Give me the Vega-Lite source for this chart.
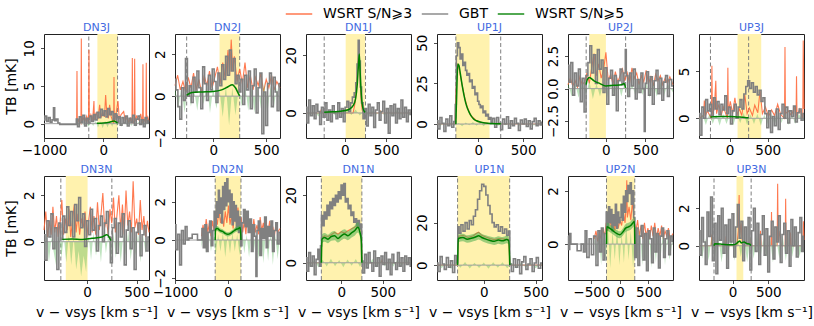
{
"$schema":"https://vega.github.io/schema/vega-lite/v6.json",
"background":"white",
"padding":{"left":4,"top":0,"right":5,"bottom":5},
"config":{
"font":"DejaVu Sans",
"view":{"stroke":"#222","strokeWidth":1},
"axis":{"grid":false,"domain":false,"tickColor":"#222","tickSize":3.5,"tickWidth":0.8,"labelFontSize":13.5,"labelColor":"#000","labelPadding":2,"labelFlush":false,"labelOverlap":false,"titleFontSize":14,"titleFontWeight":"normal","titleColor":"#000"},
"axisX":{"titlePadding":6},
"axisY":{"labelAngle":-90,"labelPadding":4,"titlePadding":4},
"title":{"fontSize":11,"fontWeight":"normal","color":"#4169e1","offset":1},
"legend":{"orient":"none","legendX":241,"legendY":-34,"direction":"horizontal","symbolType":"stroke","symbolSize":700,"symbolStrokeWidth":1.5,"labelFontSize":14,"labelOffset":10,"columnPadding":5}
},
"datasets":{
"g1":[{"x":-1000,"y":0.5},{"x":-970,"y":1.0},{"x":-940,"y":0.3},{"x":-910,"y":0.8},{"x":-880,"y":0.2},{"x":-850,"y":0.5},{"x":-830,"y":2.1},{"x":-810,"y":0.4},{"x":-780,"y":0.6},{"x":-750,"y":0.1},{"x":-720,"y":-0.1},{"x":-460,"y":-0.1},{"x":-450,"y":0.6},{"x":-420,"y":-0.4},{"x":-390,"y":0.9},{"x":-360,"y":0.2},{"x":-330,"y":1.1},{"x":-300,"y":-0.3},{"x":-270,"y":0.7},{"x":-240,"y":0.1},{"x":-210,"y":1.0},{"x":-180,"y":0.3},{"x":-150,"y":1.2},{"x":-120,"y":0.5},{"x":-90,"y":1.5},{"x":-60,"y":0.8},{"x":-30,"y":1.9},{"x":0,"y":1.1},{"x":30,"y":1.7},{"x":60,"y":0.9},{"x":90,"y":2.0},{"x":120,"y":1.2},{"x":150,"y":1.6},{"x":180,"y":0.6},{"x":210,"y":1.3},{"x":240,"y":0.2},{"x":270,"y":0.9},{"x":300,"y":-0.2},{"x":330,"y":0.8},{"x":360,"y":0.1},{"x":390,"y":1.0},{"x":420,"y":-0.3},{"x":450,"y":0.7},{"x":480,"y":0.2},{"x":510,"y":1.1},{"x":540,"y":-0.2},{"x":570,"y":0.6},{"x":600,"y":1.0},{"x":630,"y":-0.1},{"x":660,"y":0.5},{"x":690,"y":-0.4},{"x":720,"y":0.8},{"x":750,"y":0.1},{"x":770,"y":0.4}],
"o1":[{"x":-450,"y":0},{"x":-444,"y":7.0},{"x":-438,"y":0},{"x":-420,"y":0.5},{"x":-400,"y":0.2},{"x":-377,"y":0},{"x":-371,"y":11.3},{"x":-365,"y":0},{"x":-340,"y":0.8},{"x":-310,"y":0.3},{"x":-280,"y":1.0},{"x":-250,"y":0},{"x":-242,"y":9.8},{"x":-236,"y":0.5},{"x":-210,"y":1.2},{"x":-180,"y":0.4},{"x":-158,"y":3.0},{"x":-150,"y":0.5},{"x":-120,"y":1.5},{"x":-90,"y":0.6},{"x":-62,"y":2.5},{"x":-40,"y":0.8},{"x":-10,"y":1.6},{"x":20,"y":0.9},{"x":39,"y":3.8},{"x":60,"y":1.2},{"x":85,"y":0.7},{"x":106,"y":2.5},{"x":130,"y":1.0},{"x":150,"y":0.5},{"x":174,"y":0},{"x":180,"y":6.2},{"x":186,"y":0.3},{"x":210,"y":1.1},{"x":247,"y":3.0},{"x":270,"y":0.6},{"x":300,"y":1.2},{"x":343,"y":1.6},{"x":370,"y":0.4},{"x":400,"y":0.9},{"x":430,"y":0.2},{"x":460,"y":0.7},{"x":483,"y":0},{"x":489,"y":8.7},{"x":496,"y":0.4},{"x":521,"y":0},{"x":528,"y":8.6},{"x":535,"y":0.3},{"x":560,"y":1.0},{"x":600,"y":0.5},{"x":630,"y":1.3},{"x":662,"y":0},{"x":668,"y":7.9},{"x":674,"y":0.2},{"x":700,"y":0.6},{"x":718,"y":0},{"x":724,"y":8.1},{"x":730,"y":0.4},{"x":750,"y":0.9},{"x":770,"y":0.3}],
"n1":[{"x":-450,"y":0.2},{"x":-410,"y":-0.3},{"x":-370,"y":0.4},{"x":-330,"y":-0.2},{"x":-290,"y":0.3},{"x":-250,"y":-0.4},{"x":-210,"y":0.2},{"x":-170,"y":-0.3},{"x":-130,"y":0.4},{"x":-90,"y":-0.5},{"x":-50,"y":0.3},{"x":-10,"y":-0.6},{"x":30,"y":0.4},{"x":70,"y":-0.5},{"x":110,"y":0.3},{"x":150,"y":-0.4},{"x":190,"y":0.5},{"x":230,"y":-0.3},{"x":270,"y":0.2},{"x":310,"y":-0.4},{"x":350,"y":0.3},{"x":390,"y":-0.2},{"x":430,"y":0.4},{"x":470,"y":-0.3},{"x":510,"y":0.2},{"x":550,"y":-0.4},{"x":590,"y":0.3},{"x":630,"y":-0.2},{"x":670,"y":0.4},{"x":710,"y":-0.3},{"x":750,"y":0.2},{"x":770,"y":0}],
"m1":[{"x":-110,"y":0.05},{"x":0,"y":0.1},{"x":100,"y":0.2},{"x":180,"y":0.35},{"x":240,"y":0.05}],
"g2":[{"x":-360,"y":0.8},{"x":-342,"y":0.3},{"x":-324,"y":-0.5},{"x":-306,"y":-1.1},{"x":-288,"y":0.4},{"x":-270,"y":-0.2},{"x":-252,"y":1.8},{"x":-234,"y":0.0},{"x":-216,"y":0.5},{"x":-198,"y":-0.3},{"x":-180,"y":0.9},{"x":-162,"y":0.2},{"x":-144,"y":1.2},{"x":-126,"y":0.4},{"x":-108,"y":-0.6},{"x":-90,"y":1.4},{"x":-72,"y":0.6},{"x":-54,"y":-0.2},{"x":-36,"y":1.0},{"x":-18,"y":0.3},{"x":0,"y":1.3},{"x":18,"y":0.7},{"x":36,"y":-0.3},{"x":54,"y":1.1},{"x":72,"y":0.5},{"x":90,"y":1.5},{"x":108,"y":0.8},{"x":126,"y":1.9},{"x":144,"y":1.0},{"x":162,"y":2.2},{"x":180,"y":1.2},{"x":198,"y":1.8},{"x":216,"y":0.6},{"x":234,"y":1.0},{"x":252,"y":0.2},{"x":270,"y":0.8},{"x":288,"y":-0.4},{"x":306,"y":1.0},{"x":324,"y":0.3},{"x":342,"y":1.2},{"x":360,"y":-0.6},{"x":378,"y":0.5},{"x":396,"y":1.3},{"x":414,"y":-0.8},{"x":432,"y":0.4},{"x":450,"y":1.1},{"x":468,"y":-1.8},{"x":486,"y":0.2},{"x":504,"y":-1.4},{"x":522,"y":0.6},{"x":540,"y":1.1},{"x":558,"y":-0.5},{"x":576,"y":0.9},{"x":594,"y":0.2},{"x":612,"y":-0.7},{"x":630,"y":0.6}],
"o2":[{"x":-360,"y":0.5},{"x":-335,"y":1.0},{"x":-310,"y":0.3},{"x":-285,"y":0.7},{"x":-260,"y":0.2},{"x":-235,"y":0.9},{"x":-210,"y":0.4},{"x":-185,"y":1.1},{"x":-160,"y":0.3},{"x":-135,"y":0.8},{"x":-110,"y":0.2},{"x":-85,"y":1.0},{"x":-60,"y":0.5},{"x":-35,"y":1.2},{"x":-10,"y":0.4},{"x":15,"y":0.9},{"x":40,"y":1.4},{"x":65,"y":0.6},{"x":90,"y":1.6},{"x":115,"y":0.8},{"x":140,"y":2.2},{"x":155,"y":1.0},{"x":170,"y":2.7},{"x":185,"y":1.2},{"x":200,"y":1.9},{"x":225,"y":0.7},{"x":250,"y":1.3},{"x":275,"y":0.6},{"x":300,"y":1.6},{"x":325,"y":0.4},{"x":350,"y":1.0},{"x":375,"y":0.3},{"x":400,"y":0.9},{"x":425,"y":0.5},{"x":450,"y":1.1},{"x":475,"y":0.2},{"x":500,"y":0.8},{"x":525,"y":0.4},{"x":550,"y":1.0},{"x":575,"y":0.3},{"x":600,"y":0.7},{"x":630,"y":0.4}],
"n2":[{"x":-360,"y":0.5},{"x":-330,"y":-0.6},{"x":-300,"y":0.4},{"x":-270,"y":-0.8},{"x":-240,"y":0.6},{"x":-210,"y":-0.5},{"x":-180,"y":0.3},{"x":-150,"y":-0.7},{"x":-120,"y":0.5},{"x":-90,"y":-0.4},{"x":-60,"y":0.6},{"x":-30,"y":-0.8},{"x":0,"y":0.4},{"x":30,"y":-0.6},{"x":60,"y":0.3},{"x":90,"y":-1.0},{"x":120,"y":0.5},{"x":150,"y":-1.4},{"x":180,"y":0.4},{"x":210,"y":-0.9},{"x":240,"y":0.3},{"x":270,"y":-0.5},{"x":300,"y":0.6},{"x":330,"y":-0.7},{"x":360,"y":0.4},{"x":390,"y":-0.8},{"x":420,"y":0.5},{"x":450,"y":-0.6},{"x":480,"y":0.7},{"x":510,"y":-0.9},{"x":540,"y":0.5},{"x":570,"y":-0.6},{"x":600,"y":0.4},{"x":630,"y":-0.3}],
"m2":[{"x":-250,"y":0.05},{"x":-200,"y":0.18},{"x":-100,"y":0.2},{"x":0,"y":0.22},{"x":80,"y":0.3},{"x":140,"y":0.45},{"x":180,"y":0.55},{"x":210,"y":0.4},{"x":240,"y":0.1},{"x":250,"y":0.02}],
"g3":[{"x":-470,"y":2.0},{"x":-448,"y":-3.5},{"x":-426,"y":4.5},{"x":-404,"y":-1.0},{"x":-382,"y":2.5},{"x":-360,"y":-2.0},{"x":-338,"y":3.0},{"x":-316,"y":0.5},{"x":-294,"y":-4.0},{"x":-272,"y":2.0},{"x":-250,"y":-1.5},{"x":-228,"y":3.5},{"x":-206,"y":-2.5},{"x":-184,"y":1.0},{"x":-162,"y":-3.0},{"x":-140,"y":2.5},{"x":-118,"y":0.0},{"x":-96,"y":-2.0},{"x":-74,"y":3.5},{"x":-52,"y":-1.5},{"x":-30,"y":1.5},{"x":-8,"y":-3.0},{"x":14,"y":2.0},{"x":36,"y":4.0},{"x":58,"y":0.5},{"x":80,"y":3.5},{"x":102,"y":5.5},{"x":124,"y":7.0},{"x":140,"y":10.5},{"x":155,"y":17.0},{"x":168,"y":25.2},{"x":180,"y":18.0},{"x":195,"y":9.0},{"x":210,"y":3.5},{"x":230,"y":-2.0},{"x":250,"y":1.5},{"x":272,"y":-4.5},{"x":294,"y":3.0},{"x":316,"y":-1.0},{"x":338,"y":2.0},{"x":360,"y":-5.0},{"x":382,"y":1.0},{"x":404,"y":3.5},{"x":426,"y":-2.5},{"x":448,"y":0.5},{"x":470,"y":4.0},{"x":492,"y":-3.5},{"x":514,"y":1.5},{"x":536,"y":-7.0},{"x":558,"y":2.5},{"x":580,"y":-1.0},{"x":602,"y":3.0},{"x":624,"y":-3.5},{"x":646,"y":1.5},{"x":668,"y":-2.0},{"x":690,"y":4.5},{"x":712,"y":-1.5},{"x":734,"y":2.0},{"x":756,"y":-3.0},{"x":778,"y":1.0},{"x":800,"y":-0.5}],
"o3":[{"x":-470,"y":0},{"x":-300,"y":0},{"x":-290,"y":0.8},{"x":-280,"y":0},{"x":100,"y":0},{"x":120,"y":3},{"x":140,"y":8},{"x":160,"y":18},{"x":170,"y":21},{"x":180,"y":15},{"x":195,"y":5},{"x":210,"y":1},{"x":230,"y":0},{"x":420,"y":0},{"x":430,"y":0.6},{"x":440,"y":0},{"x":800,"y":0}],
"n3":[{"x":-470,"y":0.8},{"x":-420,"y":-1.0},{"x":-370,"y":0.7},{"x":-320,"y":-1.2},{"x":-270,"y":0.9},{"x":-220,"y":-0.8},{"x":-170,"y":1.0},{"x":-120,"y":-0.9},{"x":-70,"y":0.6},{"x":-20,"y":-1.1},{"x":30,"y":0.8},{"x":80,"y":-0.7},{"x":130,"y":1.2},{"x":180,"y":-0.9},{"x":230,"y":0.7},{"x":280,"y":-1.0},{"x":330,"y":0.8},{"x":380,"y":-0.6},{"x":430,"y":0.9},{"x":480,"y":-1.1},{"x":530,"y":0.7},{"x":580,"y":-0.8},{"x":630,"y":1.0},{"x":680,"y":-0.7},{"x":730,"y":0.6},{"x":780,"y":-0.9},{"x":800,"y":0}],
"m3":[{"x":-250,"y":0.2},{"x":-150,"y":0.4},{"x":-50,"y":0.6},{"x":50,"y":1.2},{"x":100,"y":2.5},{"x":130,"y":5},{"x":150,"y":10},{"x":165,"y":17},{"x":175,"y":20.5},{"x":185,"y":14},{"x":200,"y":6},{"x":220,"y":1.5},{"x":245,"y":0.2}],
"g4":[{"x":-460,"y":2.0},{"x":-438,"y":-3.0},{"x":-416,"y":4.0},{"x":-394,"y":0.5},{"x":-372,"y":-4.5},{"x":-350,"y":3.0},{"x":-328,"y":-1.0},{"x":-306,"y":5.0},{"x":-284,"y":-2.0},{"x":-262,"y":1.5},{"x":-250,"y":12},{"x":-240,"y":42},{"x":-225,"y":50},{"x":-210,"y":47},{"x":-195,"y":40},{"x":-180,"y":43},{"x":-165,"y":36},{"x":-150,"y":38},{"x":-135,"y":33},{"x":-120,"y":30},{"x":-105,"y":31},{"x":-90,"y":26},{"x":-75,"y":27},{"x":-60,"y":22},{"x":-45,"y":23},{"x":-30,"y":18},{"x":-15,"y":19},{"x":0,"y":14},{"x":15,"y":12},{"x":30,"y":10},{"x":45,"y":11},{"x":60,"y":7},{"x":75,"y":8},{"x":90,"y":5},{"x":105,"y":6},{"x":120,"y":3},{"x":135,"y":4},{"x":150,"y":1.0},{"x":172,"y":3.5},{"x":194,"y":-2.0},{"x":216,"y":4.0},{"x":238,"y":0.5},{"x":260,"y":-3.5},{"x":282,"y":3.0},{"x":304,"y":0.0},{"x":326,"y":4.5},{"x":348,"y":-2.5},{"x":370,"y":2.0},{"x":392,"y":-1.0},{"x":414,"y":3.5},{"x":436,"y":0.5},{"x":458,"y":-4.0},{"x":480,"y":2.5},{"x":502,"y":0.0},{"x":524,"y":3.0},{"x":546,"y":-1.5},{"x":568,"y":2.0},{"x":590,"y":-3.0},{"x":612,"y":1.5},{"x":634,"y":3.5},{"x":656,"y":-1.0},{"x":678,"y":2.0},{"x":700,"y":-0.5},{"x":710,"y":1.0}],
"o4":[{"x":-460,"y":0},{"x":-260,"y":0},{"x":-250,"y":20},{"x":-230,"y":37},{"x":-210,"y":33},{"x":-180,"y":24},{"x":-150,"y":16},{"x":-120,"y":10},{"x":-90,"y":6},{"x":-60,"y":4},{"x":-30,"y":2.5},{"x":0,"y":1.5},{"x":50,"y":0.8},{"x":100,"y":0.5},{"x":150,"y":0.3},{"x":200,"y":0.5},{"x":230,"y":0},{"x":710,"y":0}],
"n4":[{"x":-460,"y":0.8},{"x":-420,"y":-1.2},{"x":-380,"y":1.0},{"x":-340,"y":-0.9},{"x":-300,"y":1.3},{"x":-260,"y":-1.0},{"x":-220,"y":0.7},{"x":-180,"y":-1.4},{"x":-140,"y":1.0},{"x":-100,"y":-0.8},{"x":-60,"y":1.2},{"x":-20,"y":-1.1},{"x":20,"y":0.9},{"x":60,"y":-1.3},{"x":100,"y":1.1},{"x":140,"y":-0.7},{"x":180,"y":0.9},{"x":220,"y":-1.2},{"x":260,"y":1.0},{"x":300,"y":-0.9},{"x":340,"y":1.3},{"x":380,"y":-1.0},{"x":420,"y":0.8},{"x":460,"y":-1.2},{"x":500,"y":1.0},{"x":540,"y":-0.8},{"x":580,"y":1.1},{"x":620,"y":-1.0},{"x":660,"y":0.9},{"x":710,"y":-0.5}],
"m4":[{"x":-250,"y":0},{"x":-240,"y":20},{"x":-228,"y":37},{"x":-215,"y":36},{"x":-200,"y":31},{"x":-180,"y":24},{"x":-160,"y":18},{"x":-140,"y":13},{"x":-120,"y":9.5},{"x":-100,"y":7},{"x":-80,"y":5},{"x":-50,"y":3},{"x":-20,"y":2},{"x":20,"y":1.2},{"x":80,"y":0.6},{"x":150,"y":0.3},{"x":250,"y":0.1}],
"g5":[{"x":-480,"y":1.8},{"x":-456,"y":0.5},{"x":-432,"y":2.0},{"x":-408,"y":-0.5},{"x":-384,"y":1.2},{"x":-360,"y":0.2},{"x":-336,"y":1.5},{"x":-312,"y":-1.0},{"x":-288,"y":0.8},{"x":-264,"y":-1.8},{"x":-240,"y":1.0},{"x":-216,"y":2.0},{"x":-192,"y":3.3},{"x":-168,"y":1.2},{"x":-144,"y":2.6},{"x":-120,"y":0.4},{"x":-96,"y":3.0},{"x":-72,"y":1.5},{"x":-48,"y":2.2},{"x":-24,"y":-0.3},{"x":0,"y":1.6},{"x":24,"y":-1.2},{"x":48,"y":0.8},{"x":72,"y":1.4},{"x":96,"y":-0.5},{"x":120,"y":1.0},{"x":144,"y":-1.7},{"x":168,"y":0.6},{"x":192,"y":1.5},{"x":216,"y":0.3},{"x":240,"y":1.2},{"x":252,"y":3.0},{"x":264,"y":1.0},{"x":288,"y":-0.6},{"x":312,"y":1.2},{"x":336,"y":0.2},{"x":360,"y":1.5},{"x":384,"y":-0.8},{"x":408,"y":0.7},{"x":432,"y":-0.3},{"x":456,"y":1.2},{"x":480,"y":0.0},{"x":492,"y":-3.3},{"x":504,"y":0.4},{"x":528,"y":1.3},{"x":552,"y":-0.5},{"x":576,"y":0.9},{"x":600,"y":-1.2},{"x":624,"y":0.6},{"x":648,"y":1.4},{"x":672,"y":-0.4},{"x":696,"y":0.8},{"x":720,"y":-0.9},{"x":744,"y":0.5},{"x":768,"y":1.0},{"x":792,"y":-0.6},{"x":816,"y":0.7},{"x":850,"y":0.2}],
"o5":[{"x":-480,"y":0.3},{"x":-450,"y":0.8},{"x":-420,"y":0.2},{"x":-390,"y":0.6},{"x":-360,"y":0.1},{"x":-330,"y":0.9},{"x":-300,"y":0.3},{"x":-270,"y":0.5},{"x":-240,"y":1.2},{"x":-210,"y":0.4},{"x":-180,"y":1.6},{"x":-150,"y":2.7},{"x":-120,"y":1.0},{"x":-90,"y":1.9},{"x":-60,"y":0.8},{"x":-30,"y":1.4},{"x":0,"y":2.8},{"x":30,"y":0.6},{"x":60,"y":1.1},{"x":90,"y":0.3},{"x":120,"y":1.3},{"x":150,"y":0.5},{"x":180,"y":1.0},{"x":210,"y":1.5},{"x":240,"y":0.6},{"x":270,"y":1.2},{"x":300,"y":0.4},{"x":330,"y":1.6},{"x":360,"y":0.8},{"x":390,"y":1.2},{"x":420,"y":0.3},{"x":450,"y":1.0},{"x":480,"y":0.5},{"x":510,"y":1.4},{"x":540,"y":0.4},{"x":570,"y":0.9},{"x":600,"y":0.2},{"x":630,"y":1.1},{"x":660,"y":0.6},{"x":690,"y":1.0},{"x":720,"y":0.3},{"x":750,"y":0.8},{"x":780,"y":0.4},{"x":810,"y":0.9},{"x":850,"y":0.3}],
"n5":[{"x":-480,"y":0.5},{"x":-435,"y":-0.6},{"x":-390,"y":0.4},{"x":-345,"y":-0.7},{"x":-300,"y":0.5},{"x":-255,"y":-0.5},{"x":-210,"y":0.6},{"x":-165,"y":-0.8},{"x":-120,"y":0.4},{"x":-75,"y":-0.6},{"x":-30,"y":0.5},{"x":15,"y":-0.7},{"x":60,"y":0.4},{"x":105,"y":-0.5},{"x":150,"y":0.6},{"x":195,"y":-0.6},{"x":240,"y":0.5},{"x":285,"y":-0.7},{"x":330,"y":0.4},{"x":375,"y":-0.6},{"x":420,"y":0.5},{"x":465,"y":-0.5},{"x":510,"y":0.6},{"x":555,"y":-0.7},{"x":600,"y":0.4},{"x":645,"y":-0.6},{"x":690,"y":0.5},{"x":735,"y":-0.6},{"x":780,"y":0.4},{"x":850,"y":-0.3}],
"m5":[{"x":-250,"y":0.3},{"x":-235,"y":0.7},{"x":-210,"y":0.85},{"x":-150,"y":0.6},{"x":-80,"y":0.4},{"x":0,"y":0.2},{"x":100,"y":0.25},{"x":200,"y":0.3},{"x":230,"y":0.4},{"x":250,"y":0.05}],
"g6":[{"x":-400,"y":0.5},{"x":-375,"y":-1.8},{"x":-350,"y":1.2},{"x":-325,"y":0.0},{"x":-300,"y":2.0},{"x":-275,"y":0.8},{"x":-250,"y":1.5},{"x":-225,"y":0.3},{"x":-200,"y":2.2},{"x":-175,"y":1.0},{"x":-150,"y":1.8},{"x":-125,"y":0.4},{"x":-100,"y":1.5},{"x":-75,"y":0.9},{"x":-50,"y":2.4},{"x":-25,"y":0.5},{"x":0,"y":1.2},{"x":25,"y":-0.6},{"x":50,"y":0.8},{"x":75,"y":1.5},{"x":100,"y":0.0},{"x":125,"y":1.2},{"x":150,"y":2.0},{"x":175,"y":1.0},{"x":200,"y":2.6},{"x":225,"y":3.4},{"x":250,"y":4.0},{"x":275,"y":3.2},{"x":300,"y":3.8},{"x":325,"y":2.8},{"x":350,"y":3.4},{"x":375,"y":2.5},{"x":400,"y":3.0},{"x":425,"y":1.8},{"x":450,"y":2.2},{"x":475,"y":0.5},{"x":500,"y":-1.0},{"x":525,"y":0.8},{"x":550,"y":-1.5},{"x":575,"y":0.2},{"x":600,"y":-0.8},{"x":625,"y":1.0},{"x":650,"y":-1.2},{"x":675,"y":0.5},{"x":700,"y":1.5},{"x":725,"y":0.0},{"x":750,"y":1.2},{"x":775,"y":-0.5},{"x":800,"y":0.8},{"x":825,"y":0.2},{"x":850,"y":1.3},{"x":875,"y":-0.4},{"x":900,"y":0.6},{"x":925,"y":1.0},{"x":950,"y":-0.2},{"x":975,"y":0.5}],
"o6":[{"x":-400,"y":0},{"x":-340,"y":0.3},{"x":-330,"y":1.9},{"x":-320,"y":0.2},{"x":-290,"y":0.8},{"x":-260,"y":0.3},{"x":-237,"y":0},{"x":-231,"y":5.6},{"x":-225,"y":0.4},{"x":-200,"y":1.0},{"x":-180,"y":4.0},{"x":-170,"y":0.5},{"x":-140,"y":1.5},{"x":-110,"y":0.3},{"x":-80,"y":1.2},{"x":-50,"y":0.5},{"x":-28,"y":0},{"x":-22,"y":5.4},{"x":-16,"y":0.6},{"x":10,"y":1.8},{"x":40,"y":0.5},{"x":70,"y":2.2},{"x":100,"y":0.4},{"x":130,"y":1.0},{"x":160,"y":0.3},{"x":200,"y":2.5},{"x":230,"y":0.5},{"x":260,"y":1.1},{"x":300,"y":0.3},{"x":330,"y":1.4},{"x":370,"y":0.6},{"x":400,"y":3.0},{"x":430,"y":0.5},{"x":470,"y":1.2},{"x":510,"y":0.2},{"x":550,"y":0.9},{"x":590,"y":0.3},{"x":630,"y":1.5},{"x":670,"y":0.4},{"x":720,"y":0},{"x":726,"y":7.6},{"x":732,"y":0.5},{"x":770,"y":0.8},{"x":810,"y":0.3},{"x":850,"y":1.2},{"x":871,"y":0},{"x":877,"y":4.5},{"x":883,"y":0.3},{"x":920,"y":1.0},{"x":959,"y":0},{"x":965,"y":8.3},{"x":975,"y":1.0}],
"n6":[{"x":-400,"y":-0.5},{"x":-355,"y":0.4},{"x":-310,"y":-0.7},{"x":-265,"y":0.5},{"x":-220,"y":-0.6},{"x":-175,"y":0.4},{"x":-130,"y":-0.8},{"x":-85,"y":0.5},{"x":-40,"y":-0.6},{"x":5,"y":0.4},{"x":50,"y":-0.7},{"x":95,"y":0.5},{"x":140,"y":-0.5},{"x":185,"y":0.6},{"x":230,"y":-0.7},{"x":275,"y":0.4},{"x":320,"y":-0.6},{"x":365,"y":0.5},{"x":410,"y":-0.8},{"x":455,"y":0.4},{"x":500,"y":-0.6},{"x":545,"y":0.5},{"x":590,"y":-0.7},{"x":635,"y":0.4},{"x":680,"y":-0.5},{"x":725,"y":0.6},{"x":770,"y":-0.7},{"x":815,"y":0.4},{"x":860,"y":-0.6},{"x":905,"y":0.5},{"x":975,"y":-0.3}],
"m6":[{"x":-250,"y":0.15},{"x":-100,"y":0.2},{"x":0,"y":0.2},{"x":100,"y":0.15},{"x":200,"y":0.1},{"x":250,"y":0.05}],
"g7":[{"x":-435,"y":0.3},{"x":-415,"y":-0.8},{"x":-395,"y":0.9},{"x":-375,"y":0.2},{"x":-355,"y":1.2},{"x":-335,"y":-0.3},{"x":-315,"y":0.6},{"x":-295,"y":-1.2},{"x":-275,"y":0.8},{"x":-255,"y":0.1},{"x":-235,"y":1.1},{"x":-215,"y":0.4},{"x":-195,"y":1.5},{"x":-175,"y":0.7},{"x":-155,"y":1.3},{"x":-135,"y":0.2},{"x":-115,"y":1.6},{"x":-95,"y":0.9},{"x":-75,"y":1.9},{"x":-55,"y":0.6},{"x":-35,"y":1.2},{"x":-15,"y":-0.2},{"x":5,"y":0.9},{"x":25,"y":0.3},{"x":45,"y":1.4},{"x":65,"y":0.5},{"x":85,"y":1.0},{"x":105,"y":-0.4},{"x":125,"y":0.7},{"x":145,"y":1.1},{"x":165,"y":0.0},{"x":185,"y":0.8},{"x":205,"y":1.3},{"x":225,"y":0.2},{"x":245,"y":-0.9},{"x":265,"y":0.6},{"x":285,"y":1.0},{"x":305,"y":-0.5},{"x":325,"y":0.8},{"x":345,"y":0.2},{"x":365,"y":1.2},{"x":385,"y":-1.0},{"x":405,"y":0.5},{"x":425,"y":0.9},{"x":445,"y":-0.3},{"x":465,"y":0.6},{"x":485,"y":-1.2},{"x":505,"y":0.4},{"x":525,"y":0.8},{"x":545,"y":-0.6},{"x":565,"y":0.3},{"x":585,"y":0.7},{"x":605,"y":-0.4},{"x":625,"y":0.2}],
"o7":[{"x":-435,"y":0.5},{"x":-417,"y":1.3},{"x":-399,"y":0.2},{"x":-381,"y":0.9},{"x":-363,"y":0.3},{"x":-345,"y":1.5},{"x":-327,"y":0.4},{"x":-309,"y":1.1},{"x":-291,"y":0.2},{"x":-273,"y":0.8},{"x":-255,"y":1.8},{"x":-237,"y":0.3},{"x":-219,"y":1.0},{"x":-201,"y":0.5},{"x":-183,"y":1.4},{"x":-165,"y":0.2},{"x":-147,"y":0.9},{"x":-129,"y":1.6},{"x":-111,"y":0.4},{"x":-93,"y":1.2},{"x":-75,"y":0.3},{"x":-57,"y":1.0},{"x":-39,"y":0.6},{"x":-21,"y":1.3},{"x":-3,"y":0.2},{"x":15,"y":0.9},{"x":33,"y":1.5},{"x":51,"y":0.4},{"x":69,"y":1.1},{"x":87,"y":0.3},{"x":105,"y":1.7},{"x":123,"y":0.5},{"x":141,"y":1.2},{"x":159,"y":2.1},{"x":177,"y":0.6},{"x":195,"y":1.0},{"x":213,"y":0.3},{"x":231,"y":1.4},{"x":249,"y":0.8},{"x":267,"y":1.9},{"x":285,"y":0.4},{"x":303,"y":1.2},{"x":321,"y":2.0},{"x":339,"y":0.5},{"x":357,"y":1.6},{"x":375,"y":0.3},{"x":393,"y":2.2},{"x":411,"y":0.7},{"x":429,"y":1.3},{"x":447,"y":0.4},{"x":465,"y":2.6},{"x":483,"y":0.6},{"x":501,"y":1.0},{"x":519,"y":0.3},{"x":537,"y":1.8},{"x":555,"y":0.5},{"x":573,"y":1.1},{"x":591,"y":0.2},{"x":609,"y":0.9},{"x":625,"y":0.4}],
"n7":[{"x":-435,"y":-0.6},{"x":-410,"y":0.3},{"x":-385,"y":-0.9},{"x":-360,"y":0.2},{"x":-335,"y":-0.5},{"x":-310,"y":-1.1},{"x":-285,"y":0.4},{"x":-260,"y":-0.7},{"x":-235,"y":0.2},{"x":-210,"y":-0.9},{"x":-185,"y":0.3},{"x":-160,"y":-1.0},{"x":-135,"y":0.2},{"x":-110,"y":-1.2},{"x":-85,"y":-0.4},{"x":-60,"y":-1.5},{"x":-35,"y":-0.6},{"x":-10,"y":-1.3},{"x":15,"y":0.3},{"x":40,"y":-0.8},{"x":65,"y":0.4},{"x":90,"y":-0.6},{"x":115,"y":0.2},{"x":140,"y":-0.9},{"x":165,"y":0.5},{"x":190,"y":-0.5},{"x":215,"y":0.3},{"x":240,"y":-1.0},{"x":265,"y":0.4},{"x":290,"y":-0.7},{"x":315,"y":0.2},{"x":340,"y":-0.9},{"x":365,"y":0.3},{"x":390,"y":-0.6},{"x":415,"y":0.5},{"x":440,"y":-0.8},{"x":465,"y":0.2},{"x":490,"y":-0.6},{"x":515,"y":0.4},{"x":540,"y":-0.9},{"x":565,"y":0.3},{"x":590,"y":-0.5},{"x":625,"y":0.2}],
"m7":[{"x":-250,"y":0.1},{"x":-150,"y":0.12},{"x":-50,"y":0.1},{"x":50,"y":0.15},{"x":150,"y":0.2},{"x":200,"y":0.3},{"x":240,"y":0.05}],
"g8":[{"x":-1000,"y":0.8},{"x":-965,"y":-0.5},{"x":-930,"y":0.3},{"x":-895,"y":-1.3},{"x":-860,"y":0.5},{"x":-825,"y":-0.2},{"x":-790,"y":0.7},{"x":-755,"y":0.0},{"x":-720,"y":0.1},{"x":-700,"y":0.1},{"x":-650,"y":0.3},{"x":-500,"y":0.0},{"x":-480,"y":0.6},{"x":-450,"y":-0.4},{"x":-420,"y":0.8},{"x":-390,"y":-0.6},{"x":-360,"y":0.4},{"x":-330,"y":1.0},{"x":-300,"y":-0.3},{"x":-270,"y":0.5},{"x":-250,"y":1.5},{"x":-230,"y":0.6},{"x":-210,"y":2.0},{"x":-190,"y":1.2},{"x":-170,"y":2.6},{"x":-150,"y":1.4},{"x":-130,"y":2.2},{"x":-110,"y":0.9},{"x":-90,"y":2.8},{"x":-70,"y":1.6},{"x":-50,"y":3.0},{"x":-30,"y":1.8},{"x":-10,"y":3.2},{"x":10,"y":2.0},{"x":30,"y":2.6},{"x":50,"y":1.2},{"x":70,"y":2.4},{"x":90,"y":0.8},{"x":110,"y":2.0},{"x":130,"y":1.0},{"x":150,"y":1.8},{"x":170,"y":0.6},{"x":190,"y":1.5},{"x":210,"y":0.4},{"x":230,"y":1.2},{"x":250,"y":-0.3},{"x":280,"y":0.9},{"x":310,"y":1.6},{"x":340,"y":0.7},{"x":370,"y":1.5},{"x":400,"y":0.4},{"x":430,"y":1.1},{"x":460,"y":-0.6},{"x":490,"y":0.8},{"x":520,"y":0.2},{"x":540,"y":-1.9},{"x":560,"y":0.5},{"x":590,"y":1.0},{"x":620,"y":-0.8},{"x":650,"y":0.6},{"x":680,"y":0.1},{"x":710,"y":1.2},{"x":740,"y":-0.4},{"x":770,"y":0.7},{"x":800,"y":0.2},{"x":830,"y":1.0},{"x":860,"y":-0.6},{"x":890,"y":0.5},{"x":920,"y":0.9},{"x":950,"y":-0.2},{"x":985,"y":0.4}],
"o8":[{"x":-500,"y":0.2},{"x":-470,"y":0.8},{"x":-440,"y":0.3},{"x":-410,"y":1.1},{"x":-380,"y":0.4},{"x":-350,"y":0.9},{"x":-320,"y":0.2},{"x":-290,"y":1.0},{"x":-260,"y":0.5},{"x":-230,"y":1.3},{"x":-200,"y":0.8},{"x":-170,"y":1.6},{"x":-140,"y":0.9},{"x":-110,"y":1.4},{"x":-80,"y":0.7},{"x":-50,"y":1.5},{"x":-20,"y":0.9},{"x":10,"y":1.8},{"x":40,"y":0.8},{"x":70,"y":1.3},{"x":100,"y":0.6},{"x":130,"y":1.5},{"x":160,"y":0.9},{"x":190,"y":1.7},{"x":220,"y":0.7},{"x":250,"y":1.2},{"x":280,"y":0.4},{"x":310,"y":1.0},{"x":340,"y":0.3},{"x":370,"y":1.4},{"x":400,"y":0.5},{"x":430,"y":0.9},{"x":460,"y":0.2},{"x":490,"y":1.1},{"x":520,"y":0.4},{"x":550,"y":0.8},{"x":580,"y":0.3},{"x":610,"y":1.2},{"x":640,"y":0.5},{"x":670,"y":0.9},{"x":700,"y":0.2},{"x":730,"y":0.8},{"x":760,"y":0.4},{"x":790,"y":1.0},{"x":820,"y":0.3},{"x":850,"y":0.7},{"x":880,"y":0.2},{"x":910,"y":0.9},{"x":940,"y":0.4},{"x":985,"y":0.6}],
"n8":[{"x":-500,"y":-0.4},{"x":-455,"y":0.3},{"x":-410,"y":-0.7},{"x":-365,"y":0.4},{"x":-320,"y":-0.6},{"x":-275,"y":0.2},{"x":-230,"y":-0.8},{"x":-185,"y":0.3},{"x":-140,"y":-0.6},{"x":-95,"y":0.4},{"x":-50,"y":-0.9},{"x":-5,"y":0.3},{"x":40,"y":-0.7},{"x":85,"y":0.4},{"x":130,"y":-0.6},{"x":175,"y":0.3},{"x":220,"y":-0.8},{"x":265,"y":0.4},{"x":310,"y":-0.7},{"x":355,"y":0.3},{"x":400,"y":-0.9},{"x":445,"y":0.4},{"x":490,"y":-0.6},{"x":535,"y":0.3},{"x":580,"y":-1.0},{"x":625,"y":0.4},{"x":670,"y":-1.2},{"x":715,"y":0.3},{"x":760,"y":-1.1},{"x":805,"y":0.4},{"x":850,"y":-1.3},{"x":895,"y":0.3},{"x":940,"y":-1.0},{"x":985,"y":0.2}],
"m8":[{"x":-240,"y":0,"lo":0,"hi":0},{"x":-235,"y":0.55,"lo":0.42,"hi":0.68},{"x":-200,"y":0.6,"lo":0.47,"hi":0.73},{"x":-150,"y":0.5,"lo":0.38,"hi":0.62},{"x":-100,"y":0.45,"lo":0.33,"hi":0.57},{"x":-50,"y":0.35,"lo":0.24,"hi":0.46},{"x":0,"y":0.3,"lo":0.19,"hi":0.41},{"x":50,"y":0.35,"lo":0.24,"hi":0.46},{"x":100,"y":0.45,"lo":0.33,"hi":0.57},{"x":150,"y":0.55,"lo":0.42,"hi":0.68},{"x":200,"y":0.6,"lo":0.47,"hi":0.73},{"x":235,"y":0.65,"lo":0.52,"hi":0.78},{"x":247,"y":0,"lo":0,"hi":0}],
"g9":[{"x":-425,"y":1.5},{"x":-403,"y":-2.5},{"x":-381,"y":3.0},{"x":-359,"y":-1.0},{"x":-337,"y":2.0},{"x":-315,"y":-3.5},{"x":-293,"y":1.0},{"x":-271,"y":4.0},{"x":-255,"y":-1.0},{"x":-245,"y":5.0},{"x":-232,"y":14},{"x":-215,"y":11},{"x":-198,"y":15},{"x":-181,"y":13},{"x":-164,"y":17},{"x":-147,"y":14},{"x":-130,"y":18},{"x":-113,"y":16},{"x":-96,"y":19},{"x":-79,"y":17},{"x":-62,"y":20},{"x":-45,"y":18},{"x":-28,"y":21},{"x":-11,"y":19},{"x":6,"y":23},{"x":23,"y":20},{"x":40,"y":23.5},{"x":57,"y":18},{"x":74,"y":19},{"x":91,"y":16},{"x":108,"y":17},{"x":125,"y":14},{"x":142,"y":15},{"x":159,"y":12},{"x":176,"y":13},{"x":193,"y":11},{"x":210,"y":12.5},{"x":227,"y":10},{"x":240,"y":11.5},{"x":250,"y":0.5},{"x":270,"y":-3.0},{"x":292,"y":2.5},{"x":314,"y":-1.5},{"x":336,"y":3.0},{"x":358,"y":0.0},{"x":380,"y":-2.5},{"x":402,"y":3.5},{"x":424,"y":-1.0},{"x":446,"y":1.5},{"x":468,"y":-4.0},{"x":490,"y":2.0},{"x":512,"y":-0.5},{"x":534,"y":3.0},{"x":556,"y":-2.0},{"x":578,"y":1.0},{"x":600,"y":-3.5},{"x":622,"y":2.5},{"x":644,"y":0.0},{"x":666,"y":-2.0},{"x":688,"y":3.0},{"x":710,"y":-1.0},{"x":732,"y":1.5},{"x":754,"y":-2.5},{"x":776,"y":2.0},{"x":798,"y":-0.5},{"x":820,"y":1.5},{"x":840,"y":-1.0}],
"o9":[{"x":-425,"y":0},{"x":-245,"y":0},{"x":-235,"y":7.5},{"x":-200,"y":8.0},{"x":-160,"y":7.8},{"x":-120,"y":8.3},{"x":-80,"y":9.0},{"x":-40,"y":8.5},{"x":0,"y":9.2},{"x":40,"y":8.8},{"x":80,"y":9.5},{"x":120,"y":10.0},{"x":160,"y":10.5},{"x":190,"y":11.0},{"x":220,"y":10.2},{"x":240,"y":9.8},{"x":250,"y":0},{"x":480,"y":0},{"x":490,"y":0.7},{"x":500,"y":0},{"x":840,"y":0}],
"n9":[{"x":-425,"y":0.8},{"x":-375,"y":-1.2},{"x":-325,"y":1.0},{"x":-275,"y":-1.4},{"x":-225,"y":0.9},{"x":-175,"y":-1.1},{"x":-125,"y":1.2},{"x":-75,"y":-1.0},{"x":-25,"y":0.8},{"x":25,"y":-1.3},{"x":75,"y":1.0},{"x":125,"y":-0.9},{"x":175,"y":1.1},{"x":225,"y":-1.2},{"x":275,"y":0.9},{"x":325,"y":-1.0},{"x":375,"y":1.2},{"x":425,"y":-1.4},{"x":475,"y":0.8},{"x":525,"y":-1.1},{"x":575,"y":1.0},{"x":625,"y":-1.2},{"x":675,"y":0.9},{"x":725,"y":-1.0},{"x":775,"y":1.1},{"x":840,"y":-0.6}],
"m9":[{"x":-240,"y":0,"lo":0,"hi":0},{"x":-232,"y":7.0,"lo":5.8,"hi":8.4},{"x":-200,"y":7.5,"lo":6.2,"hi":8.8},{"x":-160,"y":7.0,"lo":5.8,"hi":8.3},{"x":-120,"y":7.8,"lo":6.5,"hi":9.1},{"x":-80,"y":8.0,"lo":6.7,"hi":9.4},{"x":-40,"y":7.2,"lo":6.0,"hi":8.5},{"x":0,"y":8.0,"lo":6.7,"hi":9.4},{"x":40,"y":8.5,"lo":7.1,"hi":9.9},{"x":80,"y":8.0,"lo":6.7,"hi":9.3},{"x":120,"y":8.8,"lo":7.4,"hi":10.2},{"x":160,"y":9.5,"lo":8.0,"hi":11.0},{"x":200,"y":10.5,"lo":9.0,"hi":12.1},{"x":225,"y":9.0,"lo":7.6,"hi":10.5},{"x":240,"y":7.0,"lo":5.8,"hi":8.3},{"x":248,"y":0,"lo":0,"hi":0}],
"g10":[{"x":-450,"y":1.0},{"x":-430,"y":-3.0},{"x":-410,"y":4.0},{"x":-390,"y":0.5},{"x":-370,"y":-2.0},{"x":-350,"y":3.5},{"x":-330,"y":-1.0},{"x":-310,"y":2.0},{"x":-290,"y":-3.5},{"x":-270,"y":4.5},{"x":-255,"y":1.0},{"x":-245,"y":18},{"x":-230,"y":15},{"x":-210,"y":19},{"x":-190,"y":16},{"x":-170,"y":20},{"x":-150,"y":17},{"x":-130,"y":21},{"x":-110,"y":19},{"x":-90,"y":23},{"x":-70,"y":26},{"x":-50,"y":31},{"x":-30,"y":35},{"x":-10,"y":38},{"x":10,"y":37},{"x":30,"y":33},{"x":50,"y":28},{"x":70,"y":24},{"x":90,"y":20},{"x":110,"y":18},{"x":130,"y":19},{"x":150,"y":16},{"x":170,"y":18},{"x":190,"y":15},{"x":210,"y":17},{"x":230,"y":14},{"x":245,"y":16},{"x":255,"y":0.5},{"x":275,"y":-3.0},{"x":295,"y":3.0},{"x":315,"y":-1.0},{"x":335,"y":2.5},{"x":355,"y":-4.0},{"x":375,"y":1.5},{"x":395,"y":4.0},{"x":415,"y":-2.0},{"x":435,"y":0.5},{"x":455,"y":3.0},{"x":475,"y":-3.0},{"x":495,"y":1.0},{"x":515,"y":3.5},{"x":535,"y":-1.5},{"x":560,"y":1.0}],
"o10":[{"x":-450,"y":0},{"x":-255,"y":0},{"x":-245,"y":13.5},{"x":-200,"y":14},{"x":-150,"y":13},{"x":-100,"y":13.8},{"x":-70,"y":15},{"x":-50,"y":15.5},{"x":-20,"y":14},{"x":20,"y":13.2},{"x":60,"y":12.5},{"x":100,"y":12},{"x":150,"y":12.5},{"x":200,"y":12.2},{"x":240,"y":12},{"x":252,"y":0},{"x":560,"y":0}],
"n10":[{"x":-450,"y":1.0},{"x":-405,"y":-1.5},{"x":-360,"y":1.2},{"x":-315,"y":-1.8},{"x":-270,"y":1.3},{"x":-225,"y":-1.2},{"x":-180,"y":1.5},{"x":-135,"y":-1.6},{"x":-90,"y":1.1},{"x":-45,"y":-1.4},{"x":0,"y":1.2},{"x":45,"y":-1.7},{"x":90,"y":1.3},{"x":135,"y":-1.2},{"x":180,"y":1.4},{"x":225,"y":-1.5},{"x":270,"y":1.1},{"x":315,"y":-1.6},{"x":360,"y":1.3},{"x":405,"y":-1.3},{"x":450,"y":1.2},{"x":495,"y":-1.5},{"x":560,"y":0.5}],
"m10":[{"x":-252,"y":0,"lo":0,"hi":0},{"x":-245,"y":12.5,"lo":10.8,"hi":14.3},{"x":-200,"y":13.0,"lo":11.2,"hi":14.8},{"x":-160,"y":12.2,"lo":10.5,"hi":14.0},{"x":-120,"y":12.6,"lo":10.9,"hi":14.4},{"x":-80,"y":13.2,"lo":11.4,"hi":15.0},{"x":-50,"y":13.8,"lo":12.0,"hi":15.6},{"x":-20,"y":13.0,"lo":11.3,"hi":14.8},{"x":20,"y":12.2,"lo":10.5,"hi":14.0},{"x":60,"y":11.6,"lo":9.9,"hi":13.4},{"x":100,"y":11.2,"lo":9.5,"hi":13.0},{"x":140,"y":11.8,"lo":10.1,"hi":13.6},{"x":180,"y":11.4,"lo":9.7,"hi":13.2},{"x":220,"y":12.0,"lo":10.3,"hi":13.8},{"x":240,"y":11.5,"lo":9.8,"hi":13.3},{"x":250,"y":0,"lo":0,"hi":0}],
"g11":[{"x":-910,"y":0.3},{"x":-890,"y":-0.2},{"x":-870,"y":0.4},{"x":-850,"y":0.0},{"x":-800,"y":0.0},{"x":-760,"y":0.0},{"x":-740,"y":-0.25},{"x":-700,"y":-0.25},{"x":-660,"y":0.0},{"x":-620,"y":-0.3},{"x":-600,"y":0.5},{"x":-560,"y":-0.5},{"x":-520,"y":0.2},{"x":-480,"y":-0.4},{"x":-440,"y":0.3},{"x":-400,"y":-0.8},{"x":-370,"y":0.5},{"x":-340,"y":-0.3},{"x":-310,"y":0.6},{"x":-280,"y":-0.6},{"x":-250,"y":0.4},{"x":-230,"y":1.2},{"x":-210,"y":0.6},{"x":-190,"y":1.4},{"x":-170,"y":0.8},{"x":-150,"y":1.3},{"x":-130,"y":0.5},{"x":-110,"y":1.1},{"x":-90,"y":0.7},{"x":-70,"y":1.5},{"x":-50,"y":0.6},{"x":-30,"y":1.2},{"x":-10,"y":0.8},{"x":10,"y":1.0},{"x":30,"y":1.5},{"x":50,"y":0.9},{"x":70,"y":1.8},{"x":90,"y":1.2},{"x":110,"y":2.0},{"x":130,"y":1.6},{"x":150,"y":2.2},{"x":170,"y":1.9},{"x":190,"y":2.3},{"x":210,"y":1.5},{"x":230,"y":2.0},{"x":250,"y":1.0},{"x":270,"y":-0.5},{"x":300,"y":0.6},{"x":330,"y":-0.8},{"x":360,"y":0.3},{"x":390,"y":0.7},{"x":420,"y":-0.6},{"x":450,"y":0.4},{"x":480,"y":-1.0},{"x":510,"y":0.5},{"x":540,"y":0.2},{"x":570,"y":-0.7},{"x":600,"y":0.6},{"x":630,"y":-0.3},{"x":660,"y":0.4},{"x":690,"y":-0.9},{"x":720,"y":0.3},{"x":750,"y":0.6},{"x":780,"y":-0.5},{"x":810,"y":0.2},{"x":840,"y":0.5},{"x":870,"y":-0.4},{"x":900,"y":0.3},{"x":930,"y":0.1}],
"o11":[{"x":-450,"y":0.2},{"x":-420,"y":0.5},{"x":-390,"y":0.1},{"x":-360,"y":0.4},{"x":-330,"y":0.2},{"x":-300,"y":0.6},{"x":-270,"y":0.3},{"x":-240,"y":0.8},{"x":-210,"y":0.5},{"x":-180,"y":1.0},{"x":-150,"y":0.6},{"x":-120,"y":0.9},{"x":-90,"y":0.5},{"x":-60,"y":1.1},{"x":-30,"y":0.6},{"x":0,"y":0.9},{"x":30,"y":0.7},{"x":60,"y":1.2},{"x":90,"y":0.8},{"x":110,"y":1.5},{"x":120,"y":2.4},{"x":130,"y":1.0},{"x":160,"y":1.4},{"x":190,"y":0.9},{"x":220,"y":1.6},{"x":250,"y":0.8},{"x":280,"y":0.5},{"x":310,"y":0.9},{"x":340,"y":0.3},{"x":370,"y":0.7},{"x":400,"y":0.2},{"x":430,"y":0.8},{"x":460,"y":0.3},{"x":490,"y":0.6},{"x":520,"y":0.2},{"x":550,"y":0.7},{"x":580,"y":0.3},{"x":610,"y":0.8},{"x":640,"y":0.2},{"x":670,"y":0.6},{"x":700,"y":0.3},{"x":730,"y":0.7},{"x":760,"y":0.2},{"x":790,"y":0.5},{"x":820,"y":0.3},{"x":850,"y":0.6},{"x":880,"y":0.2},{"x":930,"y":0.4}],
"n11":[{"x":-450,"y":0.4},{"x":-410,"y":-0.6},{"x":-370,"y":0.5},{"x":-330,"y":-0.8},{"x":-290,"y":0.3},{"x":-250,"y":-0.7},{"x":-210,"y":0.6},{"x":-170,"y":-0.9},{"x":-130,"y":0.5},{"x":-90,"y":-0.6},{"x":-50,"y":0.7},{"x":-10,"y":-0.8},{"x":30,"y":0.4},{"x":70,"y":-0.7},{"x":110,"y":0.8},{"x":150,"y":-0.6},{"x":190,"y":0.5},{"x":230,"y":-0.9},{"x":270,"y":0.4},{"x":310,"y":-0.7},{"x":350,"y":0.6},{"x":390,"y":-0.8},{"x":430,"y":0.3},{"x":470,"y":-0.6},{"x":510,"y":0.5},{"x":550,"y":-0.9},{"x":590,"y":0.4},{"x":630,"y":-0.7},{"x":670,"y":0.5},{"x":710,"y":-0.6},{"x":750,"y":0.4},{"x":790,"y":-0.8},{"x":830,"y":0.3},{"x":870,"y":-0.6},{"x":930,"y":0.2}],
"m11":[{"x":-235,"y":0,"lo":0,"hi":0},{"x":-230,"y":0.65,"lo":0.5,"hi":0.8},{"x":-180,"y":0.6,"lo":0.45,"hi":0.75},{"x":-120,"y":0.5,"lo":0.36,"hi":0.64},{"x":-60,"y":0.4,"lo":0.27,"hi":0.53},{"x":0,"y":0.35,"lo":0.22,"hi":0.48},{"x":50,"y":0.45,"lo":0.31,"hi":0.59},{"x":100,"y":0.6,"lo":0.45,"hi":0.75},{"x":150,"y":0.65,"lo":0.5,"hi":0.8},{"x":190,"y":0.7,"lo":0.54,"hi":0.86},{"x":230,"y":0.8,"lo":0.63,"hi":0.97},{"x":255,"y":0.85,"lo":0.68,"hi":1.02},{"x":260,"y":0,"lo":0,"hi":0}],
"g12":[{"x":-470,"y":0.8},{"x":-445,"y":-0.5},{"x":-420,"y":1.5},{"x":-395,"y":0.2},{"x":-370,"y":-1.0},{"x":-345,"y":1.8},{"x":-320,"y":0.5},{"x":-295,"y":2.6},{"x":-270,"y":-0.8},{"x":-245,"y":1.2},{"x":-220,"y":-1.5},{"x":-195,"y":1.6},{"x":-170,"y":0.3},{"x":-145,"y":2.0},{"x":-120,"y":-0.4},{"x":-95,"y":1.1},{"x":-70,"y":-1.2},{"x":-45,"y":1.4},{"x":-20,"y":0.2},{"x":5,"y":1.7},{"x":30,"y":-0.6},{"x":55,"y":1.0},{"x":80,"y":2.2},{"x":105,"y":0.4},{"x":130,"y":1.3},{"x":155,"y":-0.8},{"x":180,"y":1.0},{"x":205,"y":0.1},{"x":230,"y":1.5},{"x":255,"y":-1.3},{"x":280,"y":0.8},{"x":305,"y":2.0},{"x":330,"y":-0.3},{"x":355,"y":1.2},{"x":380,"y":-1.0},{"x":405,"y":0.6},{"x":430,"y":1.6},{"x":455,"y":-0.5},{"x":480,"y":0.9},{"x":505,"y":-1.4},{"x":530,"y":0.5},{"x":555,"y":1.3},{"x":580,"y":-0.7},{"x":605,"y":1.0},{"x":630,"y":0.2},{"x":655,"y":1.6},{"x":680,"y":-0.9},{"x":705,"y":0.6},{"x":730,"y":1.2},{"x":755,"y":-0.4},{"x":780,"y":0.8},{"x":805,"y":-1.1},{"x":830,"y":1.4},{"x":855,"y":0.0},{"x":880,"y":1.0},{"x":905,"y":-0.6},{"x":930,"y":0.7},{"x":955,"y":1.5},{"x":980,"y":-0.3},{"x":1000,"y":0.5}],
"o12":[{"x":-470,"y":0},{"x":-300,"y":0},{"x":-290,"y":0.6},{"x":-280,"y":0},{"x":-100,"y":0},{"x":-90,"y":0.5},{"x":-80,"y":0},{"x":60,"y":0},{"x":80,"y":0.8},{"x":92,"y":2.7},{"x":100,"y":0.6},{"x":120,"y":1.2},{"x":140,"y":0},{"x":250,"y":0},{"x":260,"y":0.4},{"x":270,"y":0},{"x":380,"y":0},{"x":390,"y":0.8},{"x":400,"y":0},{"x":540,"y":0},{"x":545,"y":1.8},{"x":552,"y":0},{"x":624,"y":0},{"x":631,"y":3.3},{"x":638,"y":0.3},{"x":650,"y":0.8},{"x":680,"y":0},{"x":737,"y":0},{"x":743,"y":2.5},{"x":750,"y":0},{"x":800,"y":0},{"x":810,"y":0.7},{"x":820,"y":0},{"x":985,"y":0},{"x":991,"y":1.3},{"x":1000,"y":0.3}],
"n12":[{"x":-470,"y":0.5},{"x":-425,"y":-0.7},{"x":-380,"y":0.4},{"x":-335,"y":-0.8},{"x":-290,"y":0.6},{"x":-245,"y":-0.6},{"x":-200,"y":0.5},{"x":-155,"y":-0.9},{"x":-110,"y":0.4},{"x":-65,"y":-0.7},{"x":-20,"y":0.6},{"x":25,"y":-0.8},{"x":70,"y":0.5},{"x":115,"y":-0.6},{"x":160,"y":0.4},{"x":205,"y":-0.9},{"x":250,"y":0.5},{"x":295,"y":-0.7},{"x":340,"y":0.6},{"x":385,"y":-0.8},{"x":430,"y":0.4},{"x":475,"y":-0.6},{"x":520,"y":0.5},{"x":565,"y":-0.9},{"x":610,"y":0.4},{"x":655,"y":-0.7},{"x":700,"y":0.6},{"x":745,"y":-0.8},{"x":790,"y":0.5},{"x":835,"y":-0.6},{"x":880,"y":0.4},{"x":925,"y":-0.7},{"x":1000,"y":0.3}],
"m12":[{"x":-260,"y":0},{"x":-250,"y":0.1},{"x":-150,"y":0.08},{"x":-50,"y":0.05},{"x":0,"y":0.05},{"x":50,"y":0.1},{"x":80,"y":0.2},{"x":100,"y":0.25},{"x":120,"y":0.15},{"x":160,"y":0.2},{"x":200,"y":0.12},{"x":240,"y":0.08},{"x":255,"y":0}]
},
"columns":6,
"spacing":{"row":38,"column":26},
"bounds":"flush",
"concat":[
{"title":"DN3J","width":105,"height":104,
"encoding":{"x":{"field":"x","type":"quantitative","scale":{"domain":[-1000,770]},"axis":{"values":[-1000,0],"format":"d","title":null}},"y":{"field":"y","type":"quantitative","scale":{"domain":[-1.9,11.9]},"axis":{"values":[0,5,10],"title":"TB [mK]"}}},
"layer":[
{"data":{"values":[{"x":-100,"x2":240,"y":-1.9,"y2":11.9}]},"mark":{"type":"rect","color":"#fff2ae"},"encoding":{"x2":{"field":"x2"},"y2":{"field":"y2"}}},
{"data":{"values":[{"x":-245,"y":-1.9,"y2":11.9},{"x":240,"y":-1.9,"y2":11.9}]},"mark":{"type":"rule","color":"#7f7f7f","strokeDash":[4,2.5],"strokeWidth":1},"encoding":{"y2":{"field":"y2"}}},
{"data":{"name":"o1"},"mark":{"type":"line","strokeWidth":1.1,"opacity":0.9},"encoding":{"color":{"datum":"WSRT S/N⩾3","scale":{"domain":["WSRT S/N⩾3","GBT","WSRT S/N⩾5"],"range":["#ff6a3d","#808080","#008000"]}}}},
{"data":{"name":"n1"},"mark":{"type":"area","color":"#5cb85c","opacity":0.4},"encoding":{"y2":{"datum":0}}},
{"data":{"values":[{"x":-1000,"x2":770,"y":0}]},"mark":{"type":"rule","color":"#a0a0a0","strokeWidth":1},"encoding":{"x2":{"field":"x2"}}},
{"data":{"name":"g1"},"mark":{"type":"line","interpolate":"step","strokeWidth":1.6},"encoding":{"color":{"datum":"GBT"}}},
{"data":{"name":"m1"},"mark":{"type":"line","interpolate":"monotone","strokeWidth":1.5},"encoding":{"color":{"datum":"WSRT S/N⩾5"}}}
]},
{"title":"DN2J","width":105,"height":104,
"encoding":{"x":{"field":"x","type":"quantitative","scale":{"domain":[-360,630]},"axis":{"values":[0,500],"title":null}},"y":{"field":"y","type":"quantitative","scale":{"domain":[-2,2.97]},"axis":{"values":[-2,0,2],"title":null}}},
"layer":[
{"data":{"values":[{"x":60,"x2":250,"y":-2,"y2":2.97}]},"mark":{"type":"rect","color":"#fff2ae"},"encoding":{"x2":{"field":"x2"},"y2":{"field":"y2"}}},
{"data":{"values":[{"x":-250,"y":-2,"y2":2.97},{"x":250,"y":-2,"y2":2.97}]},"mark":{"type":"rule","color":"#7f7f7f","strokeDash":[4,2.5],"strokeWidth":1},"encoding":{"y2":{"field":"y2"}}},
{"data":{"name":"o2"},"mark":{"type":"line","strokeWidth":1.1,"opacity":0.9},"encoding":{"color":{"datum":"WSRT S/N⩾3"}}},
{"data":{"name":"n2"},"mark":{"type":"area","color":"#5cb85c","opacity":0.4},"encoding":{"y2":{"datum":0}}},
{"data":{"values":[{"x":-360,"x2":630,"y":0}]},"mark":{"type":"rule","color":"#a0a0a0","strokeWidth":1},"encoding":{"x2":{"field":"x2"}}},
{"data":{"name":"g2"},"mark":{"type":"line","interpolate":"step","strokeWidth":1.6},"encoding":{"color":{"datum":"GBT"}}},
{"data":{"name":"m2"},"mark":{"type":"line","interpolate":"monotone","strokeWidth":1.5},"encoding":{"color":{"datum":"WSRT S/N⩾5"}}}
]},
{"title":"DN1J","width":105,"height":104,
"encoding":{"x":{"field":"x","type":"quantitative","scale":{"domain":[-470,800]},"axis":{"values":[0,500],"title":null}},"y":{"field":"y","type":"quantitative","scale":{"domain":[-8.7,27.4]},"axis":{"values":[0,20],"title":null}}},
"layer":[
{"data":{"values":[{"x":10,"x2":245,"y":-8.7,"y2":27.4}]},"mark":{"type":"rect","color":"#fff2ae"},"encoding":{"x2":{"field":"x2"},"y2":{"field":"y2"}}},
{"data":{"values":[{"x":-250,"y":-8.7,"y2":27.4},{"x":250,"y":-8.7,"y2":27.4}]},"mark":{"type":"rule","color":"#7f7f7f","strokeDash":[4,2.5],"strokeWidth":1},"encoding":{"y2":{"field":"y2"}}},
{"data":{"name":"o3"},"mark":{"type":"line","strokeWidth":1.1,"opacity":0.9},"encoding":{"color":{"datum":"WSRT S/N⩾3"}}},
{"data":{"name":"n3"},"mark":{"type":"area","color":"#5cb85c","opacity":0.4},"encoding":{"y2":{"datum":0}}},
{"data":{"values":[{"x":-470,"x2":800,"y":0}]},"mark":{"type":"rule","color":"#a0a0a0","strokeWidth":1},"encoding":{"x2":{"field":"x2"}}},
{"data":{"name":"g3"},"mark":{"type":"line","interpolate":"step","strokeWidth":1.6},"encoding":{"color":{"datum":"GBT"}}},
{"data":{"name":"m3"},"mark":{"type":"line","interpolate":"monotone","strokeWidth":1.5},"encoding":{"color":{"datum":"WSRT S/N⩾5"}}}
]},
{"title":"UP1J","width":105,"height":104,
"encoding":{"x":{"field":"x","type":"quantitative","scale":{"domain":[-460,710]},"axis":{"values":[0,500],"title":null}},"y":{"field":"y","type":"quantitative","scale":{"domain":[-8.6,55.4]},"axis":{"values":[0,25,50],"title":null}}},
"layer":[
{"data":{"values":[{"x":-250,"x2":125,"y":-8.6,"y2":55.4}]},"mark":{"type":"rect","color":"#fff2ae"},"encoding":{"x2":{"field":"x2"},"y2":{"field":"y2"}}},
{"data":{"values":[{"x":-250,"y":-8.6,"y2":55.4},{"x":250,"y":-8.6,"y2":55.4}]},"mark":{"type":"rule","color":"#7f7f7f","strokeDash":[4,2.5],"strokeWidth":1},"encoding":{"y2":{"field":"y2"}}},
{"data":{"name":"o4"},"mark":{"type":"line","strokeWidth":1.1,"opacity":0.9},"encoding":{"color":{"datum":"WSRT S/N⩾3"}}},
{"data":{"name":"n4"},"mark":{"type":"area","color":"#5cb85c","opacity":0.4},"encoding":{"y2":{"datum":0}}},
{"data":{"values":[{"x":-460,"x2":710,"y":0}]},"mark":{"type":"rule","color":"#a0a0a0","strokeWidth":1},"encoding":{"x2":{"field":"x2"}}},
{"data":{"name":"g4"},"mark":{"type":"line","interpolate":"step","strokeWidth":1.6},"encoding":{"color":{"datum":"GBT"}}},
{"data":{"name":"m4"},"mark":{"type":"line","interpolate":"monotone","strokeWidth":1.5},"encoding":{"color":{"datum":"WSRT S/N⩾5"}}}
]},
{"title":"UP2J","width":105,"height":104,
"encoding":{"x":{"field":"x","type":"quantitative","scale":{"domain":[-480,850]},"axis":{"values":[0,500],"title":null}},"y":{"field":"y","type":"quantitative","scale":{"domain":[-3.8,4.2]},"axis":{"values":[-2.5,0,2.5],"format":".1f","title":null}}},
"layer":[
{"data":{"values":[{"x":-210,"x2":0,"y":-3.8,"y2":4.2}]},"mark":{"type":"rect","color":"#fff2ae"},"encoding":{"x2":{"field":"x2"},"y2":{"field":"y2"}}},
{"data":{"values":[{"x":-250,"y":-3.8,"y2":4.2},{"x":250,"y":-3.8,"y2":4.2}]},"mark":{"type":"rule","color":"#7f7f7f","strokeDash":[4,2.5],"strokeWidth":1},"encoding":{"y2":{"field":"y2"}}},
{"data":{"name":"o5"},"mark":{"type":"line","strokeWidth":1.1,"opacity":0.9},"encoding":{"color":{"datum":"WSRT S/N⩾3"}}},
{"data":{"name":"n5"},"mark":{"type":"area","color":"#5cb85c","opacity":0.4},"encoding":{"y2":{"datum":0}}},
{"data":{"values":[{"x":-480,"x2":850,"y":0}]},"mark":{"type":"rule","color":"#a0a0a0","strokeWidth":1},"encoding":{"x2":{"field":"x2"}}},
{"data":{"name":"g5"},"mark":{"type":"line","interpolate":"step","strokeWidth":1.6},"encoding":{"color":{"datum":"GBT"}}},
{"data":{"name":"m5"},"mark":{"type":"line","interpolate":"monotone","strokeWidth":1.5},"encoding":{"color":{"datum":"WSRT S/N⩾5"}}}
]},
{"title":"UP3J","width":105,"height":104,
"encoding":{"x":{"field":"x","type":"quantitative","scale":{"domain":[-400,975]},"axis":{"values":[0,500],"title":null}},"y":{"field":"y","type":"quantitative","scale":{"domain":[-2.1,9.0]},"axis":{"values":[0,5],"title":null}}},
"layer":[
{"data":{"values":[{"x":105,"x2":415,"y":-2.1,"y2":9.0}]},"mark":{"type":"rect","color":"#fff2ae"},"encoding":{"x2":{"field":"x2"},"y2":{"field":"y2"}}},
{"data":{"values":[{"x":-250,"y":-2.1,"y2":9.0},{"x":250,"y":-2.1,"y2":9.0}]},"mark":{"type":"rule","color":"#7f7f7f","strokeDash":[4,2.5],"strokeWidth":1},"encoding":{"y2":{"field":"y2"}}},
{"data":{"name":"o6"},"mark":{"type":"line","strokeWidth":1.1,"opacity":0.9},"encoding":{"color":{"datum":"WSRT S/N⩾3"}}},
{"data":{"name":"n6"},"mark":{"type":"area","color":"#5cb85c","opacity":0.4},"encoding":{"y2":{"datum":0}}},
{"data":{"values":[{"x":-400,"x2":975,"y":0}]},"mark":{"type":"rule","color":"#a0a0a0","strokeWidth":1},"encoding":{"x2":{"field":"x2"}}},
{"data":{"name":"g6"},"mark":{"type":"line","interpolate":"step","strokeWidth":1.6},"encoding":{"color":{"datum":"GBT"}}},
{"data":{"name":"m6"},"mark":{"type":"line","interpolate":"monotone","strokeWidth":1.5},"encoding":{"color":{"datum":"WSRT S/N⩾5"}}}
]},
{"title":"DN3N","width":105,"height":104,
"encoding":{"x":{"field":"x","type":"quantitative","scale":{"domain":[-435,625]},"axis":{"values":[0,500],"title":"v − vsys [km s⁻¹]"}},"y":{"field":"y","type":"quantitative","scale":{"domain":[-1.65,2.83]},"axis":{"values":[0,2],"title":"TB [mK]"}}},
"layer":[
{"data":{"values":[{"x":-215,"x2":5,"y":-1.65,"y2":2.83}]},"mark":{"type":"rect","color":"#fff2ae"},"encoding":{"x2":{"field":"x2"},"y2":{"field":"y2"}}},
{"data":{"values":[{"x":-265,"y":-1.65,"y2":2.83},{"x":250,"y":-1.65,"y2":2.83}]},"mark":{"type":"rule","color":"#7f7f7f","strokeDash":[4,2.5],"strokeWidth":1},"encoding":{"y2":{"field":"y2"}}},
{"data":{"name":"o7"},"mark":{"type":"line","strokeWidth":1.1,"opacity":0.9},"encoding":{"color":{"datum":"WSRT S/N⩾3"}}},
{"data":{"name":"n7"},"mark":{"type":"area","color":"#5cb85c","opacity":0.4},"encoding":{"y2":{"datum":0}}},
{"data":{"values":[{"x":-435,"x2":625,"y":0}]},"mark":{"type":"rule","color":"#a0a0a0","strokeWidth":1},"encoding":{"x2":{"field":"x2"}}},
{"data":{"name":"g7"},"mark":{"type":"line","interpolate":"step","strokeWidth":1.6},"encoding":{"color":{"datum":"GBT"}}},
{"data":{"name":"m7"},"mark":{"type":"line","interpolate":"monotone","strokeWidth":1.5},"encoding":{"color":{"datum":"WSRT S/N⩾5"}}}
]},
{"title":"DN2N","width":105,"height":104,
"encoding":{"x":{"field":"x","type":"quantitative","scale":{"domain":[-1000,985]},"axis":{"values":[-1000,0],"format":"d","title":"v − vsys [km s⁻¹]"}},"y":{"field":"y","type":"quantitative","scale":{"domain":[-2.09,3.35]},"axis":{"values":[-2,0,2],"title":null}}},
"layer":[
{"data":{"values":[{"x":-240,"x2":247,"y":-2.09,"y2":3.35}]},"mark":{"type":"rect","color":"#fff2ae"},"encoding":{"x2":{"field":"x2"},"y2":{"field":"y2"}}},
{"data":{"values":[{"x":-240,"y":-2.09,"y2":3.35},{"x":247,"y":-2.09,"y2":3.35}]},"mark":{"type":"rule","color":"#7f7f7f","strokeDash":[4,2.5],"strokeWidth":1},"encoding":{"y2":{"field":"y2"}}},
{"data":{"name":"o8"},"mark":{"type":"line","strokeWidth":1.1,"opacity":0.9},"encoding":{"color":{"datum":"WSRT S/N⩾3"}}},
{"data":{"name":"n8"},"mark":{"type":"area","color":"#5cb85c","opacity":0.4},"encoding":{"y2":{"datum":0}}},
{"data":{"values":[{"x":-1000,"x2":985,"y":0}]},"mark":{"type":"rule","color":"#a0a0a0","strokeWidth":1},"encoding":{"x2":{"field":"x2"}}},
{"data":{"name":"g8"},"mark":{"type":"line","interpolate":"step","strokeWidth":1.6},"encoding":{"color":{"datum":"GBT"}}},
{"data":{"name":"m8"},"mark":{"type":"area","color":"#4caf50","opacity":0.55,"interpolate":"monotone"},"encoding":{"y":{"field":"lo","type":"quantitative","title":null},"y2":{"field":"hi"}}},
{"data":{"name":"m8"},"mark":{"type":"line","interpolate":"monotone","strokeWidth":1.5},"encoding":{"color":{"datum":"WSRT S/N⩾5"}}}
]},
{"title":"DN1N","width":105,"height":104,
"encoding":{"x":{"field":"x","type":"quantitative","scale":{"domain":[-425,840]},"axis":{"values":[0,500],"title":"v − vsys [km s⁻¹]"}},"y":{"field":"y","type":"quantitative","scale":{"domain":[-5.1,25.7]},"axis":{"values":[0,20],"title":null}}},
"layer":[
{"data":{"values":[{"x":-240,"x2":248,"y":-5.1,"y2":25.7}]},"mark":{"type":"rect","color":"#fff2ae"},"encoding":{"x2":{"field":"x2"},"y2":{"field":"y2"}}},
{"data":{"values":[{"x":-240,"y":-5.1,"y2":25.7},{"x":248,"y":-5.1,"y2":25.7}]},"mark":{"type":"rule","color":"#7f7f7f","strokeDash":[4,2.5],"strokeWidth":1},"encoding":{"y2":{"field":"y2"}}},
{"data":{"name":"o9"},"mark":{"type":"line","strokeWidth":1.1,"opacity":0.9},"encoding":{"color":{"datum":"WSRT S/N⩾3"}}},
{"data":{"name":"n9"},"mark":{"type":"area","color":"#5cb85c","opacity":0.4},"encoding":{"y2":{"datum":0}}},
{"data":{"values":[{"x":-425,"x2":840,"y":0}]},"mark":{"type":"rule","color":"#a0a0a0","strokeWidth":1},"encoding":{"x2":{"field":"x2"}}},
{"data":{"name":"g9"},"mark":{"type":"line","interpolate":"step","strokeWidth":1.6},"encoding":{"color":{"datum":"GBT"}}},
{"data":{"name":"m9"},"mark":{"type":"area","color":"#4caf50","opacity":0.55,"interpolate":"monotone"},"encoding":{"y":{"field":"lo","type":"quantitative","title":null},"y2":{"field":"hi"}}},
{"data":{"name":"m9"},"mark":{"type":"line","interpolate":"monotone","strokeWidth":1.5},"encoding":{"color":{"datum":"WSRT S/N⩾5"}}}
]},
{"title":"UP1N","width":105,"height":104,
"encoding":{"x":{"field":"x","type":"quantitative","scale":{"domain":[-450,560]},"axis":{"values":[0,500],"title":"v − vsys [km s⁻¹]"}},"y":{"field":"y","type":"quantitative","scale":{"domain":[-7,41.9]},"axis":{"values":[0,20],"title":null}}},
"layer":[
{"data":{"values":[{"x":-252,"x2":249,"y":-7,"y2":41.9}]},"mark":{"type":"rect","color":"#fff2ae"},"encoding":{"x2":{"field":"x2"},"y2":{"field":"y2"}}},
{"data":{"values":[{"x":-252,"y":-7,"y2":41.9},{"x":249,"y":-7,"y2":41.9}]},"mark":{"type":"rule","color":"#7f7f7f","strokeDash":[4,2.5],"strokeWidth":1},"encoding":{"y2":{"field":"y2"}}},
{"data":{"name":"o10"},"mark":{"type":"line","strokeWidth":1.1,"opacity":0.9},"encoding":{"color":{"datum":"WSRT S/N⩾3"}}},
{"data":{"name":"n10"},"mark":{"type":"area","color":"#5cb85c","opacity":0.4},"encoding":{"y2":{"datum":0}}},
{"data":{"values":[{"x":-450,"x2":560,"y":0}]},"mark":{"type":"rule","color":"#a0a0a0","strokeWidth":1},"encoding":{"x2":{"field":"x2"}}},
{"data":{"name":"g10"},"mark":{"type":"line","interpolate":"step","strokeWidth":1.6},"encoding":{"color":{"datum":"GBT"}}},
{"data":{"name":"m10"},"mark":{"type":"area","color":"#4caf50","opacity":0.55,"interpolate":"monotone"},"encoding":{"y":{"field":"lo","type":"quantitative","title":null},"y2":{"field":"hi"}}},
{"data":{"name":"m10"},"mark":{"type":"line","interpolate":"monotone","strokeWidth":1.5},"encoding":{"color":{"datum":"WSRT S/N⩾5"}}}
]},
{"title":"UP2N","width":105,"height":104,
"encoding":{"x":{"field":"x","type":"quantitative","scale":{"domain":[-910,930]},"axis":{"values":[-500,0,500],"title":"v − vsys [km s⁻¹]"}},"y":{"field":"y","type":"quantitative","scale":{"domain":[-1.35,2.56]},"axis":{"values":[0,2],"title":null}}},
"layer":[
{"data":{"values":[{"x":-235,"x2":260,"y":-1.35,"y2":2.56}]},"mark":{"type":"rect","color":"#fff2ae"},"encoding":{"x2":{"field":"x2"},"y2":{"field":"y2"}}},
{"data":{"values":[{"x":-235,"y":-1.35,"y2":2.56},{"x":260,"y":-1.35,"y2":2.56}]},"mark":{"type":"rule","color":"#7f7f7f","strokeDash":[4,2.5],"strokeWidth":1},"encoding":{"y2":{"field":"y2"}}},
{"data":{"name":"o11"},"mark":{"type":"line","strokeWidth":1.1,"opacity":0.9},"encoding":{"color":{"datum":"WSRT S/N⩾3"}}},
{"data":{"name":"n11"},"mark":{"type":"area","color":"#5cb85c","opacity":0.4},"encoding":{"y2":{"datum":0}}},
{"data":{"values":[{"x":-910,"x2":930,"y":0}]},"mark":{"type":"rule","color":"#a0a0a0","strokeWidth":1},"encoding":{"x2":{"field":"x2"}}},
{"data":{"name":"g11"},"mark":{"type":"line","interpolate":"step","strokeWidth":1.6},"encoding":{"color":{"datum":"GBT"}}},
{"data":{"name":"m11"},"mark":{"type":"area","color":"#4caf50","opacity":0.55,"interpolate":"monotone"},"encoding":{"y":{"field":"lo","type":"quantitative","title":null},"y2":{"field":"hi"}}},
{"data":{"name":"m11"},"mark":{"type":"line","interpolate":"monotone","strokeWidth":1.5},"encoding":{"color":{"datum":"WSRT S/N⩾5"}}}
]},
{"title":"UP3N","width":105,"height":104,
"encoding":{"x":{"field":"x","type":"quantitative","scale":{"domain":[-470,1000]},"axis":{"values":[0,500],"title":"v − vsys [km s⁻¹]"}},"y":{"field":"y","type":"quantitative","scale":{"domain":[-1.83,3.72]},"axis":{"values":[0,2],"title":null}}},
"layer":[
{"data":{"values":[{"x":55,"x2":150,"y":-1.83,"y2":3.72}]},"mark":{"type":"rect","color":"#fff2ae"},"encoding":{"x2":{"field":"x2"},"y2":{"field":"y2"}}},
{"data":{"values":[{"x":-260,"y":-1.83,"y2":3.72},{"x":260,"y":-1.83,"y2":3.72}]},"mark":{"type":"rule","color":"#7f7f7f","strokeDash":[4,2.5],"strokeWidth":1},"encoding":{"y2":{"field":"y2"}}},
{"data":{"name":"o12"},"mark":{"type":"line","strokeWidth":1.1,"opacity":0.9},"encoding":{"color":{"datum":"WSRT S/N⩾3"}}},
{"data":{"name":"n12"},"mark":{"type":"area","color":"#5cb85c","opacity":0.4},"encoding":{"y2":{"datum":0}}},
{"data":{"values":[{"x":-470,"x2":1000,"y":0}]},"mark":{"type":"rule","color":"#a0a0a0","strokeWidth":1},"encoding":{"x2":{"field":"x2"}}},
{"data":{"name":"g12"},"mark":{"type":"line","interpolate":"step","strokeWidth":1.6},"encoding":{"color":{"datum":"GBT"}}},
{"data":{"name":"m12"},"mark":{"type":"line","interpolate":"monotone","strokeWidth":1.5},"encoding":{"color":{"datum":"WSRT S/N⩾5"}}}
]}
]
}
